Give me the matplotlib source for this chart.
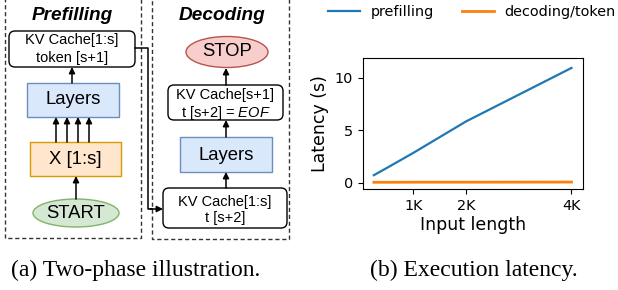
import matplotlib
matplotlib.use('Agg')
import matplotlib.pyplot as plt
from matplotlib.patches import FancyBboxPatch, Rectangle, Ellipse

# chart data
input_len = [256, 512, 1024, 2048, 4096]
prefill_latency = [0.72, 1.42, 2.85, 5.85, 10.95]
decode_latency = [0.04, 0.04, 0.05, 0.05, 0.06]
xtick_vals = [1024, 2048, 4096]
xtick_labels = ['1K', '2K', '4K']
ytick_vals = [0, 5, 10]

plt.rcParams['mathtext.fontset'] = 'custom'
plt.rcParams['mathtext.it'] = 'Liberation Sans:italic'
plt.rcParams['mathtext.rm'] = 'Liberation Sans'

W, H = 618, 290
fig = plt.figure(figsize=(W / 100, H / 100), dpi=100)

# diagram drawn in pixel units
d = fig.add_axes([0, 0, 1, 1])
d.set_xlim(0, W)
d.set_ylim(H, 0)
d.axis('off')

sans = 'Liberation Sans'


def rbox(x0, y0, x1, y1, fc='white', ec='black', r=6, lw=1.0):
    d.add_patch(FancyBboxPatch((x0, y0), x1 - x0, y1 - y0,
                               boxstyle='round,pad=0,rounding_size=%g' % r,
                               fc=fc, ec=ec, lw=lw))


def sbox(x0, y0, x1, y1, fc, ec):
    d.add_patch(Rectangle((x0, y0), x1 - x0, y1 - y0, fc=fc, ec=ec, lw=1.0))


def ell(cx, cy, w, h, fc, ec):
    d.add_patch(Ellipse((cx, cy), w, h, fc=fc, ec=ec, lw=1.0))


def txt(x, y, s, size=10.5, **kw):
    d.text(x, y, s, ha='center', va='center', fontsize=size, family=sans, **kw)


def arrow(x0, y0, x1, y1):
    d.annotate('', xy=(x1, y1), xytext=(x0, y0),
               arrowprops=dict(arrowstyle='-|>', color='black', lw=1.1,
                               mutation_scale=9, shrinkA=0, shrinkB=0))


# dashed phase frames
d.add_patch(Rectangle((5, -5), 136, 243, fill=False, ec='#333333', lw=1.0,
                      ls=(0, (3, 2))))
d.add_patch(Rectangle((152, -5), 137, 244, fill=False, ec='#333333', lw=1.0,
                      ls=(0, (3, 2))))

txt(72, 15, 'Prefilling', size=13.7, weight='bold', style='italic')
txt(222, 15, 'Decoding', size=13.7, weight='bold', style='italic')

# prefilling column
rbox(9, 31, 135, 67)
txt(72, 40, 'KV Cache[1:s]')
txt(72, 58, 'token [s+1]')
sbox(27, 83, 119, 117, '#dae8fc', '#6c8ebf')
txt(73, 100, 'Layers', size=13.3)
sbox(30, 142, 121, 176, '#ffe6cc', '#d79b00')
txt(75, 159, 'X [1:s]', size=13.3)
ell(76, 213, 86, 28, '#d5e8d4', '#82b366')
txt(76, 213, 'START', size=13.3)

arrow(72, 83, 72, 67)
for ax_x in [56, 67, 78, 89]:
    arrow(ax_x, 142, ax_x, 117)
arrow(76, 199, 76, 176)

# connector prefilling -> decoding
d.plot([135, 148, 148, 152], [48, 48, 209, 209], color='black', lw=1.1)
arrow(150, 209, 163, 209)

# decoding column
ell(227, 52, 82, 31, '#f8cecc', '#b85450')
txt(227, 52, 'STOP', size=13.3)
rbox(168, 85, 283, 120)
txt(225.5, 95, 'KV Cache[s+1]')
txt(225.5, 113, r't [s+2] = $\mathit{EOF}$')
sbox(180, 137, 272, 172, '#dae8fc', '#6c8ebf')
txt(226, 155, 'Layers', size=13.3)
rbox(163, 188, 287, 228)
txt(225, 202, 'KV Cache[1:s]')
txt(225, 218, 't [s+2]')

arrow(226, 85, 226, 68)
arrow(226, 137, 226, 120)
arrow(226, 188, 226, 172)

# captions
d.text(11, 276, '(a) Two-phase illustration.', fontsize=17,
       family='Liberation Serif', va='baseline', ha='left')
d.text(370, 276, '(b) Execution latency.', fontsize=17,
       family='Liberation Serif', va='baseline', ha='left')

# latency chart
ax = fig.add_axes([363 / W, 1 - 189 / H, 220 / W, 131 / H])
ax.plot(input_len, prefill_latency, color='#1f77b4', lw=1.6, label='prefilling')
ax.plot(input_len, decode_latency, color='#ff7f0e', lw=2.0, label='decoding/token')
ax.set_xlim(45, 4320)
ax.set_ylim(-0.6, 11.9)
ax.set_xticks(xtick_vals)
ax.set_xticklabels(xtick_labels)
ax.set_yticks(ytick_vals)
ax.tick_params(labelsize=10.4)
ax.set_xlabel('Input length', fontsize=12.5, labelpad=2)
ax.set_ylabel('Latency (s)', fontsize=12.5)

fig.legend(loc='center', bbox_to_anchor=(472 / W, 1 - 12 / H), ncol=2,
           frameon=False, fontsize=10.4, handlelength=2.2, handletextpad=0.7,
           columnspacing=2.0)

fig.savefig('out.png', dpi=100)
